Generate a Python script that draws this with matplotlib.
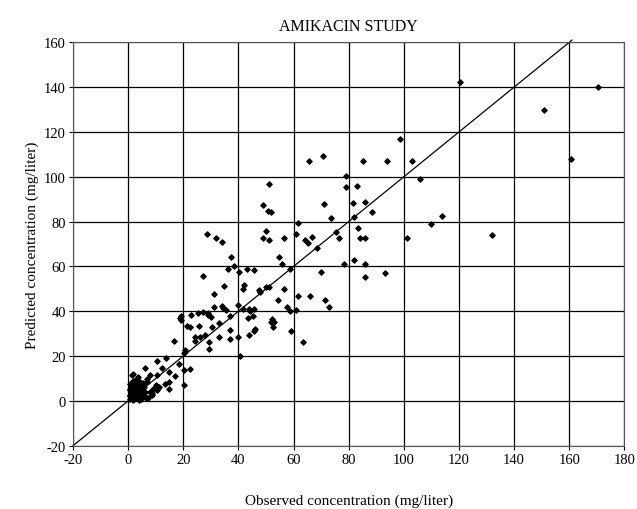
import numpy as np
import matplotlib.pyplot as plt

plt.rcParams['font.family'] = ['Liberation Serif', 'DejaVu Serif']
plt.rcParams['axes.unicode_minus'] = False

# Observed vs predicted amikacin concentrations (mg/liter)
observed = np.array([
    120.5, 170.5, 151, 160.5, 132, 98.5, 103, 94, 85.3, 70.7, 65.7, 106, 79, 79, 83,
    51, 71, 81.6, 85.9, 88.4, 49, 50.7, 52, 73.7, 82, 61.5, 114, 109.7, 101.2,
    50, 48.8, 51, 56.4, 61, 64, 65.3, 66.7, 75.3, 76.5, 83.3, 84.1, 85.9, 68.4,
    28.7, 31.7, 34, 54.7, 55.7, 37.3, 36.3, 38.5, 40.4, 43, 45.6, 58.7, 78.4, 82,
    85.9, 85.9, 93.3, 70, 27.3, 34.9, 42, 41.6, 47.5, 50, 51, 47.7, 56.5, 31,
    61.5, 66, 71.3, 73, 54.4, 57.6, 58.9, 60.8, 34, 34.5, 35.6, 31, 40, 41.6,
    43.7, 45.5, 45.2, 43.5, 44.1, 37, 28.9, 27.3, 29, 25.5, 22.7, 30, 18.7, 19.3,
    19, 21.5, 22.3, 25.7, 30.4, 33, 36.8, 45.9, 45.5, 44, 40, 33, 28, 24.3, 26,
    37, 24.4, 29.5, 16.7, 52.1, 52.9, 51.9, 52.7, 59, 63.5, 20.8, 20.4, 29.2,
    40.5, 20.3, 22.3, 20.4, 18.3, 13.7, 10.4, 15, 17, 12.4, 14.7, 15, 11.3, 13.3,
    8.7, 10, 10.4, 8, 7, 6.3, 7, 5.5, 10.3, 7.3,
    # dense cluster near the origin
    0.5, 0.8, 1.0, 1.2, 1.5, 1.8, 2.0, 2.2, 2.5, 2.8, 3.0, 3.3, 3.5, 3.8, 4.0,
    4.3, 4.6, 5.0, 5.4, 5.8, 6.2, 6.6, 0.6, 1.0, 1.4, 1.7, 2.1, 2.4, 2.7, 3.1,
    3.4, 3.7, 4.1, 4.5, 4.9, 5.3, 0.7, 1.1, 1.6, 2.0, 2.6, 3.2, 3.6, 4.2, 4.8,
    0.9, 1.3, 1.9, 2.3, 2.9, 3.5, 4.4, 5.6, 6.0, 0.5, 1.2, 2.2, 3.0, 3.9, 1.5,
    2.6, 0.8, 1.8, 7.8, 8.5, 9.2,
])
predicted = np.array([
    142.5, 140, 130, 108, 74, 116.7, 107, 107, 107, 109.4, 107, 99, 100.4, 95.4,
    95.8, 96.7, 88, 88.4, 88.8, 84.5, 87.4, 84.7, 84.2, 81.4, 82, 79.6, 82.7, 79,
    72.6, 76, 72.8, 71.7, 72.8, 74.6, 71.9, 70.4, 73.2, 75.4, 72.6, 77, 72.6,
    72.9, 68.2, 74.6, 72.8, 71, 64.4, 60.9, 64.1, 59, 60, 57.3, 59, 58.6, 59, 61,
    63, 60.9, 55.5, 57, 57.3, 55.7, 51.3, 51.8, 49.9, 49.7, 50.7, 50.7, 48.5,
    49.9, 47.8, 47, 46.9, 45.1, 42, 45.1, 42, 40, 40.6, 42.4, 41.4, 40.6, 42,
    42.9, 40.9, 40.9, 40.9, 38, 36.9, 40.2, 38, 39.4, 39.7, 38.2, 39.4, 38.4,
    37.5, 36.9, 38, 36.2, 33.2, 32.9, 33.6, 33, 34.7, 31.8, 32, 31.3, 29.5, 28.7,
    28.6, 29.6, 28.4, 28.3, 27.5, 26.8, 26.5, 26.9, 36.6, 35.3, 35, 33, 31.3,
    26.5, 22.5, 21.3, 23.2, 20.1, 13.8, 14.1, 7.1, 16.4, 19, 17.6, 13.1, 11,
    14.9, 5.5, 8.6, 6.1, 7.6, 3.4, 7.1, 11.6, 11.6, 9.8, 14.6, 8.6, 7.9, 5, 1.5,
    # dense cluster near the origin
    1.0, 2.5, 4.0, 6.0, 8.0, 3.0, 5.5, 1.5, 7.0, 3.5, 9.5, 2.0, 6.5, 4.5, 1.0,
    8.5, 3.0, 5.5, 2.0, 6.0, 4.0, 1.5, 7.5, 5.0, 3.0, 9.0, 1.0, 7.0, 4.0, 2.5,
    10.5, 6.0, 3.5, 1.0, 7.5, 3.0, 5.5, 8.0, 1.0, 4.5, 5.5, 1.5, 8.0, 2.5, 4.5,
    3.5, 6.5, 0.5, 9.0, 5.0, 2.0, 6.5, 4.0, 2.0, 2.0, 3.5, 7.5, 6.5, 0.5, 11.5,
    3.0, 5.0, 12.0, 4.0, 2.5, 5.5,
])

fig = plt.figure(figsize=(6.37, 5.10), dpi=100)
ax = fig.add_axes([0.1146, 0.1241, 0.8655, 0.7909])

# line of identity
ax.plot([-20, 161], [-20, 161], color='black', lw=0.9, clip_on=False, zorder=2)
ax.scatter(observed, predicted, marker='D', s=7, color='black', zorder=3)

ax.set_xlim(-20, 180)
ax.set_ylim(-20, 160)
ax.set_xticks(np.arange(-20, 181, 20))
ax.set_yticks(np.arange(-20, 161, 20))
ax.grid(True, color='black', lw=0.9)
ax.set_axisbelow(True)
for s in ax.spines.values():
    s.set_color('#555555')
    s.set_linewidth(0.8)
ax.tick_params(direction='out', length=3, width=0.8, labelsize=10.5, pad=2)

ax.set_title('AMIKACIN STUDY', fontsize=11.5, pad=9)
ax.set_xlabel('Observed concentration (mg/liter)', fontsize=11, labelpad=20)
ax.set_ylabel('Predicted concentration (mg/liter)', fontsize=11, labelpad=4)

fig.savefig('out.png', dpi=100)
